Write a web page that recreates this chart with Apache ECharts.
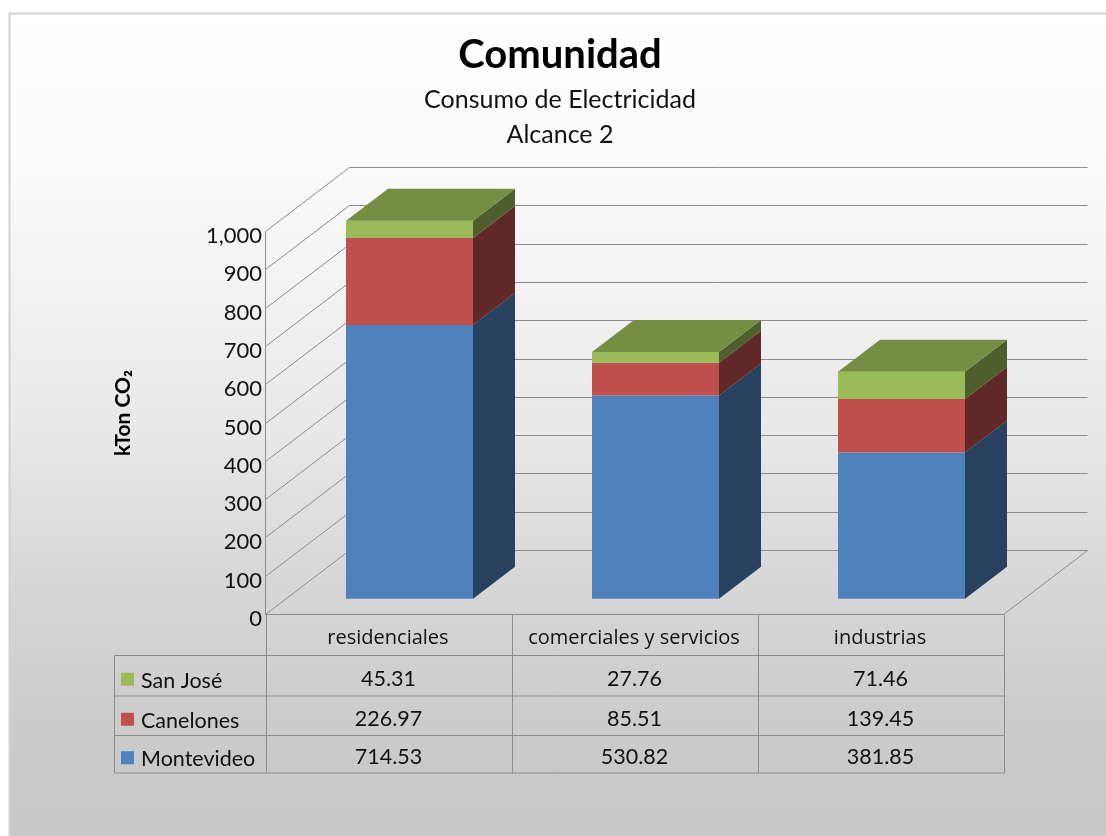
<!DOCTYPE html>
<html>
<head>
<meta charset="utf-8">
<title>Comunidad</title>
<script src="https://cdn.jsdelivr.net/npm/echarts@6/dist/echarts.min.js"></script>
<style>
	html,body{margin:0;padding:0;background:#fff;}
	#main{width:1106px;height:836px;}
</style>
</head>
<body>
<div id="main"></div>
<script>
var categories=["residenciales","comerciales y servicios","industrias"];
var montevideo=[714.53,530.82,381.85];
var canelones=[226.97,85.51,139.45];
var sanJose=[45.31,27.76,71.46];
var yTicks=[0,100,200,300,400,500,600,700,800,900,1000];

//profundidad de la caja y de las barras (px)
var DX=84,DY=-64;
var BAR_DX=42,BAR_DY=-32;
var BAR_W=127;
//filas de la tabla
var rowLines=[655.5,696,735.5,773];
var FONT="Lato, Carlito, 'Noto Sans', sans-serif";
var LINE="#8c8c8c";

var rows=[
	{name:"San José",values:sanJose,color:"#9bbb59"},
	{name:"Canelones",values:canelones,color:"#c0504d"},
	{name:"Montevideo",values:montevideo,color:"#4f81bd"}
];

function line(x1,y1,x2,y2,z){
	return {type:"line",shape:{x1:x1,y1:y1,x2:x2,y2:y2},style:{stroke:LINE,lineWidth:1,fill:null}};
}
//paredes y lineas de la caja
function drawWalls(params,api){
	var kids=[];
	var x0=api.coord([0,0])[0]-api.size([1,0])[0]/2;
	var x1=x0+api.size([1,0])[0]*categories.length;
	x0=Math.round(x0)+0.5;
	x1=Math.round(x1)+0.5;
	for(var i=0;i<yTicks.length;i++){
		var y=Math.round(api.coord([0,yTicks[i]])[1])+0.5;
		kids.push(line(x0,y,x0+DX,y+DY));
		kids.push(line(x0+DX,y+DY,x1+DX,y+DY));
	}
	var yb=Math.round(api.coord([0,0])[1])+0.5;
	var yt=Math.round(api.coord([0,1000])[1])+0.5;
	kids.push(line(x0,yt,x0,yb));
	kids.push(line(x1,yb,x1+DX,yb+DY));
	return {type:"group",children:kids};
}
//tabla de datos
function drawTable(params,api){
	var kids=[];
	var band=api.size([1,0])[0];
	var x0=Math.round(api.coord([0,0])[0]-band/2)+0.5;
	var yb=Math.round(api.coord([0,0])[1])+0.5;
	var left=114.5;
	kids.push(line(x0,yb,Math.round(x0+band*3)+0.5,yb));
	for(var c=0;c<=categories.length;c++){
		var x=Math.round(x0+band*c)+0.5;
		kids.push(line(x,yb,x,rowLines[3]));
	}
	kids.push(line(left,rowLines[0],left,rowLines[3]));
	for(var r=0;r<rowLines.length;r++){
		kids.push(line(left,rowLines[r],Math.round(x0+band*3)+0.5,rowLines[r]));
	}
	for(var i=0;i<rows.length;i++){
		var mid=(rowLines[i]+rowLines[i+1])/2;
		kids.push({type:"rect",shape:{x:121,y:mid-3,width:13,height:13},style:{fill:rows[i].color}});
		kids.push({type:"text",style:{text:rows[i].name,x:141,y:mid+5,fill:"#111",font:"21.5px "+FONT,align:"left",verticalAlign:"middle"}});
		for(var j=0;j<categories.length;j++){
			kids.push({type:"text",style:{text:rows[i].values[j].toFixed(2),x:x0+band*(j+0.5),y:mid+3,fill:"#111",font:"21.5px "+FONT,align:"center",verticalAlign:"middle"}});
		}
	}
	return {type:"group",children:kids};
}
function shade(hex,k){
	var c=echarts.color.parse(hex);
	return "rgb("+Math.round(c[0]*k)+","+Math.round(c[1]*k)+","+Math.round(c[2]*k)+")";
}
//un tramo de barra: cara frontal, lateral y (si es el ultimo) superior
function drawBar(params,api){
	var cat=api.value(0),from=api.value(1),to=api.value(2),rowIdx=api.value(3);
	var color=rows[rowIdx].color;
	var ox=BAR_DX/2+0.5,oy=BAR_DY/2+0.7;
	var cx=api.coord([cat,0])[0]+ox;
	var yA=api.coord([cat,from])[1]+oy;
	var yB=api.coord([cat,to])[1]+oy;
	var l=cx-BAR_W/2,r=cx+BAR_W/2;
	var kids=[
		{type:"polygon",shape:{points:[[r,yA],[r+BAR_DX,yA+BAR_DY],[r+BAR_DX,yB+BAR_DY],[r,yB]]},style:{fill:shade(color,0.5)}},
		{type:"rect",shape:{x:l,y:yB,width:BAR_W,height:yA-yB},style:{fill:color}}
	];
	if(rowIdx===0){
		kids.push({type:"polygon",shape:{points:[[l,yB],[l+BAR_DX,yB+BAR_DY],[r+BAR_DX,yB+BAR_DY],[r,yB]]},style:{fill:shade(color,0.76)}});
	}
	return {type:"group",children:kids};
}

var barData=[];
for(var i=0;i<categories.length;i++){
	barData.push([i,0,montevideo[i],2]);
	barData.push([i,montevideo[i],montevideo[i]+canelones[i],1]);
	barData.push([i,montevideo[i]+canelones[i],montevideo[i]+canelones[i]+sanJose[i],0]);
}

var chart=echarts.init(document.getElementById("main"));
chart.setOption({
	animation:false,
	title:[
		{text:"Comunidad",left:560,top:35,padding:0,textAlign:"center",textStyle:{fontFamily:FONT,fontSize:40,fontWeight:"bold",color:"#000"}},
		{text:"Consumo de Electricidad",left:560,top:87,padding:0,textAlign:"center",textStyle:{fontFamily:FONT,fontSize:25,fontWeight:"normal",color:"#111"}},
		{text:"Alcance 2",left:560,top:122,padding:0,textAlign:"center",textStyle:{fontFamily:FONT,fontSize:25,fontWeight:"normal",color:"#111"}}
	],
	graphic:[
		{type:"rect",z:-10,silent:true,shape:{x:9.5,y:13.5,width:1110,height:840},
			style:{stroke:"#d2d2d2",lineWidth:2,fill:new echarts.graphic.LinearGradient(0,0,0,1,[
				{offset:0,color:"#ffffff"},
				{offset:0.17,color:"#fbfbfb"},
				{offset:0.5,color:"#e8e8e8"},
				{offset:0.65,color:"#d9d9d9"},
				{offset:0.77,color:"#d0d0d0"},
				{offset:0.9,color:"#c9c9c9"},
				{offset:1,color:"#c8c8c8"}
			])}},
		{type:"text",z:5,x:123,y:413,rotation:Math.PI/2,silent:true,
			style:{text:"kTon CO₂",fill:"#000",font:"bold 21px "+FONT,align:"center",verticalAlign:"middle"}}
	],
	grid:{left:265,right:103,top:231,bottom:222},
	xAxis:{
		type:"category",
		data:categories,
		axisLine:{show:false},
		axisTick:{show:false},
		axisLabel:{margin:14,color:"#111",fontFamily:"'Open Sans', sans-serif",fontSize:20,interval:0}
	},
	yAxis:{
		type:"value",
		min:0,
		max:1000,
		interval:100,
		splitLine:{show:false},
		axisLine:{show:false},
		axisTick:{show:false},
		axisLabel:{margin:3,color:"#111",fontFamily:FONT,fontSize:22,verticalAlign:"top",lineHeight:10,
			formatter:function(v){return v>=1000?"1,000":String(v);}}
	},
	series:[
		{type:"custom",z:1,silent:true,data:[[0]],renderItem:drawWalls},
		{type:"custom",z:2,silent:true,data:barData,renderItem:drawBar},
		{type:"custom",z:3,silent:true,data:[[0]],renderItem:drawTable}
	]
});
</script>
</body>
</html>
